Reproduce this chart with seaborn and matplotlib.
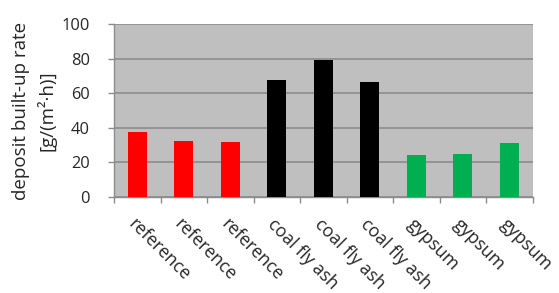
import matplotlib
matplotlib.use("Agg")
import matplotlib.pyplot as plt
import seaborn as sns
import pandas as pd
import numpy as np

categories = ["reference", "reference", "reference",
              "coal fly ash", "coal fly ash", "coal fly ash",
              "gypsum", "gypsum", "gypsum"]
values = [37.7, 32.5, 31.9, 67.8, 79.4, 66.7, 24.3, 24.9, 31.3]
colors = ["#ff0000"] * 3 + ["#000000"] * 3 + ["#00b050"] * 3
y_ticks = [0, 20, 40, 60, 80, 100]

sns.set_theme(style="white")
plt.rcParams['font.family'] = ['Open Sans', 'DejaVu Sans']

df = pd.DataFrame({"pos": [str(i) for i in range(len(values))],
                   "value": values})

fig = plt.figure(figsize=(5.59, 2.93), dpi=100)
ax = fig.add_axes([0.204, 0.328, 0.749, 0.589])
ax.set_facecolor("#bfbfbf")
sns.barplot(data=df, x="pos", y="value", hue="pos", palette=colors,
            legend=False, width=0.41, ax=ax, saturation=1, zorder=3,
            linewidth=0, edgecolor="none")

ax.set_ylim(0, 100)
ax.set_xlim(-0.5, len(values) - 0.5)
ax.set_yticks(y_ticks)
ax.set_yticklabels([str(t) for t in y_ticks], fontsize=11.8)
ax.yaxis.grid(True, color="#8c8c8c", linewidth=1.2, zorder=1)
ax.set_axisbelow(True)

ax.set_xticks(range(len(values)))
ax.set_xticklabels(categories, rotation=-45, ha="left", va="top",
                   rotation_mode="anchor", fontsize=12.8)
ax.tick_params(axis="x", length=0, pad=13)
ax.set_xticks(np.arange(-0.5, len(values), 1.0), minor=True)
ax.tick_params(axis="x", which="minor", length=4.5, color="#8c8c8c", width=1, direction="out", bottom=True)
ax.tick_params(axis="y", length=4.5, color="#8c8c8c", width=1, direction="out", left=True, pad=13)

for s in ["top", "right"]:
    ax.spines[s].set_visible(False)
for s in ["left", "bottom"]:
    ax.spines[s].set_color("#8c8c8c")
    ax.spines[s].set_linewidth(1)

ax.set_xlabel("")
ax.set_ylabel("deposit built-up rate\n[g/(m\u00b2\u00b7h)]", fontsize=13.5, linespacing=1.4,
              va="center", ha="center")
ax.yaxis.set_label_coords(-0.191, 0.5)

fig.savefig("out.png", dpi=100)
